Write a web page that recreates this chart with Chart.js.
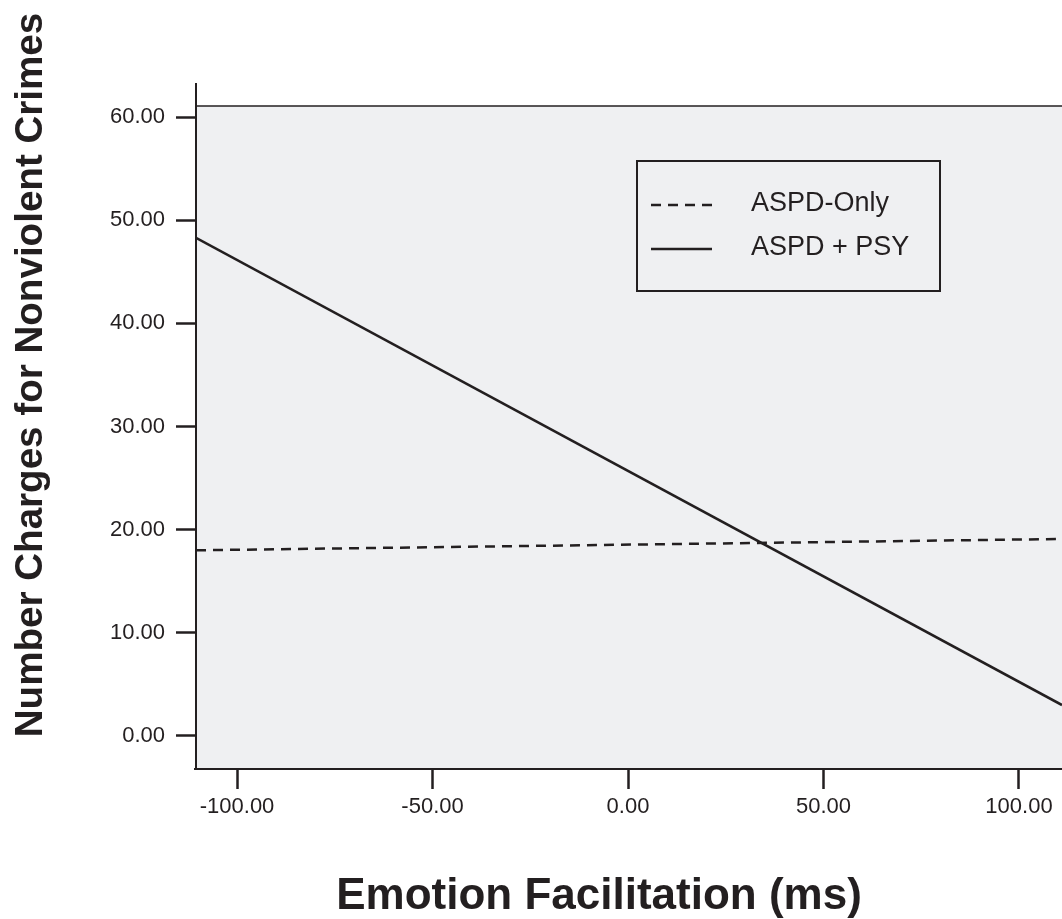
<!DOCTYPE html>
<html>
<head>
<meta charset="utf-8">
<script src="https://cdn.jsdelivr.net/npm/chart.js@4.4.1/dist/chart.umd.min.js"></script>
<style>
    html, body { margin: 0; padding: 0; background: #fff; }
    #wrap { width: 1062px; height: 919px; }
</style>
</head>
<body>
<div id="wrap"><canvas id="regChart" width="1062" height="919"></canvas></div>
<script>
// Values
const emotionX = [-110.5, 111];
const aspdOnly = [18.0, 19.1];
const aspdPsy = [48.3, 3.0];
const seriesLabels = ['ASPD-Only', 'ASPD + PSY'];
const xTickValues = [-100, -50, 0, 50, 100];
const yTickValues = [0, 10, 20, 30, 40, 50, 60];

const ink = '#231f20';
const fontFamily = '"Liberation Sans", Arial, Helvetica, sans-serif';

// background, frame, titles and legend
const framePlugin = {
    id: 'framePlugin',
    beforeDraw(chart) {
        const { ctx, chartArea: a } = chart;
        ctx.save();
        ctx.fillStyle = '#eff0f2';
        ctx.fillRect(a.left, a.top, a.right - a.left, a.bottom - a.top);
        ctx.restore();
    },
    afterDraw(chart) {
        const { ctx, chartArea: a } = chart;
        ctx.save();
        ctx.strokeStyle = ink;

        // top frame line
        ctx.lineWidth = 1.5;
        ctx.beginPath();
        ctx.moveTo(a.left, a.top);
        ctx.lineTo(a.right, a.top);
        ctx.stroke();

        // axes
        ctx.lineWidth = 2;
        ctx.beginPath();
        ctx.moveTo(a.left, 83);
        ctx.lineTo(a.left, a.bottom + 1);
        ctx.moveTo(a.left - 2, a.bottom);
        ctx.lineTo(a.right, a.bottom);
        ctx.stroke();

        // legend box
        ctx.lineWidth = 2;
        ctx.strokeRect(637, 161, 303, 130);
        const rows = [205, 249];
        chart.data.datasets.forEach((ds, i) => {
            ctx.setLineDash(ds.borderDash || []);
            ctx.lineWidth = ds.borderWidth;
            ctx.strokeStyle = ds.borderColor;
            ctx.beginPath();
            ctx.moveTo(651, rows[i]);
            ctx.lineTo(712, rows[i]);
            ctx.stroke();
            ctx.setLineDash([]);
            ctx.fillStyle = ink;
            ctx.font = '27px ' + fontFamily;
            ctx.textAlign = 'left';
            ctx.textBaseline = 'middle';
            ctx.fillText(ds.label, 751, rows[i] - 1);
        });

        // axis titles
        ctx.fillStyle = ink;
        ctx.font = 'bold 38.6px ' + fontFamily;
        ctx.textAlign = 'center';
        ctx.textBaseline = 'alphabetic';
        ctx.save();
        ctx.translate(42, 375);
        ctx.rotate(-Math.PI / 2);
        ctx.fillText('Number Charges for Nonviolent Crimes', 0, 0);
        ctx.restore();

        ctx.font = 'bold 44px ' + fontFamily;
        ctx.fillText('Emotion Facilitation (ms)', 599, 909);
        ctx.restore();
    }
};

const ctx = document.getElementById('regChart').getContext('2d');
new Chart(ctx, {
    type: 'line',
    data: {
        datasets: [
            {
                label: seriesLabels[0],
                data: emotionX.map((x, i) => ({ x: x, y: aspdOnly[i] })),
                borderColor: ink,
                borderWidth: 2.5,
                borderDash: [10, 7],
                pointRadius: 0,
                fill: false
            },
            {
                label: seriesLabels[1],
                data: emotionX.map((x, i) => ({ x: x, y: aspdPsy[i] })),
                borderColor: ink,
                borderWidth: 2.5,
                pointRadius: 0,
                fill: false
            }
        ]
    },
    options: {
        responsive: false,
        animation: false,
        layout: { padding: { top: 106, right: 0, left: 0, bottom: 0 } },
        plugins: {
            legend: { display: false },
            tooltip: { enabled: false }
        },
        scales: {
            x: {
                type: 'linear',
                min: -110.5,
                max: 111,
                afterBuildTicks: s => { s.ticks = xTickValues.map(v => ({ value: v })); },
                afterFit: s => { s.height = 150; },
                border: { display: false },
                grid: {
                    drawOnChartArea: false,
                    drawTicks: true,
                    tickLength: 20,
                    tickWidth: 2.5,
                    tickColor: ink
                },
                ticks: {
                    autoSkip: false,
                    maxRotation: 0,
                    padding: 5,
                    color: ink,
                    font: { size: 22, family: fontFamily },
                    callback: v => v.toFixed(2)
                }
            },
            y: {
                type: 'linear',
                min: -3.2,
                max: 61.07,
                afterBuildTicks: s => { s.ticks = yTickValues.map(v => ({ value: v })); },
                afterFit: s => { s.width = 196; },
                border: { display: false },
                grid: {
                    drawOnChartArea: false,
                    drawTicks: true,
                    tickLength: 20,
                    tickWidth: 2.5,
                    tickColor: ink
                },
                ticks: {
                    padding: 11,
                    color: ink,
                    font: { size: 22, family: fontFamily },
                    callback: v => v.toFixed(2)
                }
            }
        }
    },
    plugins: [framePlugin]
});
</script>
</body>
</html>
